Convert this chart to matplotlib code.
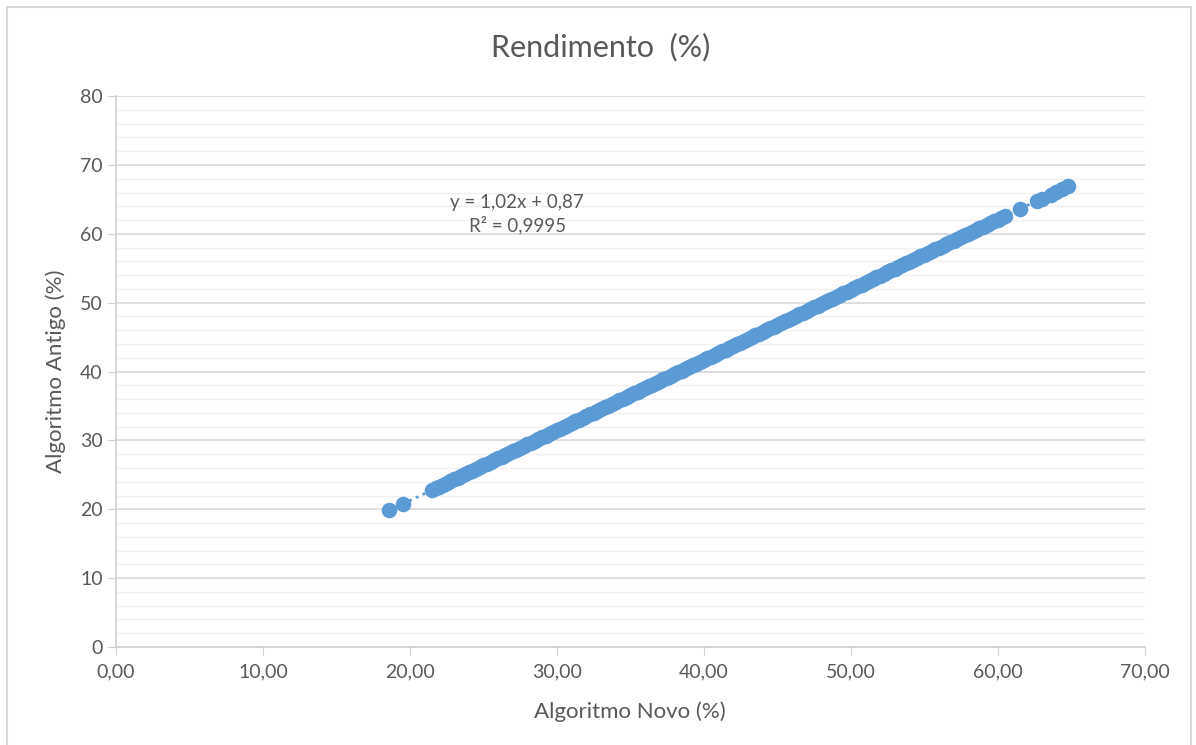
import matplotlib.pyplot as plt
import numpy as np
from matplotlib.patches import Rectangle

plt.rcParams['font.family'] = ['Lato', 'DejaVu Sans']

# Rendimento (%) - algoritmo novo vs antigo
novo = [18.6, 19.5,
        21.50, 21.75, 22.00, 22.25, 22.50, 22.75, 23.00, 23.25,
        23.50, 23.75, 24.00, 24.25, 24.50, 24.75, 25.00, 25.25,
        25.50, 25.75, 26.00, 26.25, 26.50, 26.75, 27.00, 27.25,
        27.50, 27.75, 28.00, 28.25, 28.50, 28.75, 29.00, 29.25,
        29.50, 29.75, 30.00, 30.25, 30.50, 30.75, 31.00, 31.25,
        31.50, 31.75, 32.00, 32.25, 32.50, 32.75, 33.00, 33.25,
        33.50, 33.75, 34.00, 34.25, 34.50, 34.75, 35.00, 35.25,
        35.50, 35.75, 36.00, 36.25, 36.50, 36.75, 37.00, 37.25,
        37.50, 37.75, 38.00, 38.25, 38.50, 38.75, 39.00, 39.25,
        39.50, 39.75, 40.00, 40.25, 40.50, 40.75, 41.00, 41.25,
        41.50, 41.75, 42.00, 42.25, 42.50, 42.75, 43.00, 43.25,
        43.50, 43.75, 44.00, 44.25, 44.50, 44.75, 45.00, 45.25,
        45.50, 45.75, 46.00, 46.25, 46.50, 46.75, 47.00, 47.25,
        47.50, 47.75, 48.00, 48.25, 48.50, 48.75, 49.00, 49.25,
        49.50, 49.75, 50.00, 50.25, 50.50, 50.75, 51.00, 51.25,
        51.50, 51.75, 52.00, 52.25, 52.50, 52.75, 53.00, 53.25,
        53.50, 53.75, 54.00, 54.25, 54.50, 54.75, 55.00, 55.25,
        55.50, 55.75, 56.00, 56.25, 56.50, 56.75, 57.00, 57.25,
        57.50, 57.75, 58.00, 58.25, 58.50, 58.75, 59.00, 59.25,
        59.50, 59.75, 60.00, 60.25, 60.50,
        61.5, 62.7, 63.0, 63.6, 64.0, 64.4, 64.8]
antigo = [19.9, 20.8,
          22.80, 23.06, 23.31, 23.57, 23.82, 24.08, 24.33, 24.59,
          24.84, 25.10, 25.35, 25.61, 25.86, 26.12, 26.37, 26.63,
          26.88, 27.14, 27.39, 27.65, 27.90, 28.16, 28.41, 28.67,
          28.92, 29.18, 29.43, 29.69, 29.94, 30.20, 30.45, 30.71,
          30.96, 31.22, 31.47, 31.73, 31.98, 32.24, 32.49, 32.75,
          33.00, 33.26, 33.51, 33.77, 34.02, 34.28, 34.53, 34.79,
          35.04, 35.30, 35.55, 35.81, 36.06, 36.32, 36.57, 36.83,
          37.08, 37.34, 37.59, 37.85, 38.10, 38.36, 38.61, 38.87,
          39.12, 39.38, 39.63, 39.89, 40.14, 40.40, 40.65, 40.91,
          41.16, 41.42, 41.67, 41.93, 42.18, 42.44, 42.69, 42.95,
          43.20, 43.46, 43.71, 43.97, 44.22, 44.48, 44.73, 44.99,
          45.24, 45.50, 45.75, 46.01, 46.26, 46.52, 46.77, 47.03,
          47.28, 47.54, 47.79, 48.05, 48.30, 48.56, 48.81, 49.07,
          49.32, 49.58, 49.83, 50.09, 50.34, 50.60, 50.85, 51.11,
          51.36, 51.62, 51.87, 52.13, 52.38, 52.64, 52.89, 53.15,
          53.40, 53.66, 53.91, 54.17, 54.42, 54.68, 54.93, 55.19,
          55.44, 55.70, 55.95, 56.21, 56.46, 56.72, 56.97, 57.23,
          57.48, 57.74, 57.99, 58.25, 58.50, 58.76, 59.01, 59.27,
          59.52, 59.78, 60.03, 60.29, 60.54, 60.80, 61.05, 61.31,
          61.56, 61.82, 62.07, 62.33, 62.58,
          63.6, 64.8, 65.0, 65.6, 66.1, 66.5, 67.0]

slope, intercept = 1.02, 0.87
xticks = [0, 10, 20, 30, 40, 50, 60, 70]
yticks = [0, 10, 20, 30, 40, 50, 60, 70, 80]

blue = '#5b9bd5'
grey = '#595959'

fig = plt.figure(figsize=(11.96, 7.45), dpi=100)
fig.patches.append(Rectangle((0.006, -0.01), 0.99, 1.0, transform=fig.transFigure,
                             fill=False, edgecolor='#d9d9d9', linewidth=1.5))
ax = fig.add_axes([0.097, 0.1315, 0.860, 0.7395])

ax.scatter(novo, antigo, s=125, color=blue, zorder=3, linewidths=0)
xs = np.array([min(novo), max(novo)])
ax.plot(xs, slope * xs + intercept, ':', color=blue, linewidth=2, zorder=2)

ax.set_xlim(0, 70)
ax.set_ylim(0, 80)
ax.set_xticks(xticks)
ax.set_xticklabels(['%d,00' % v for v in xticks])
ax.set_yticks(yticks)
ax.set_yticks(np.arange(0, 81, 2), minor=True)
ax.grid(True, axis='y', which='major', color='#d9d9d9', linewidth=1.2)
ax.grid(True, axis='y', which='minor', color='#f0f0f0', linewidth=1.0)
ax.set_axisbelow(True)

for s in ['top', 'right']:
    ax.spines[s].set_visible(False)
for s in ['left', 'bottom']:
    ax.spines[s].set_color('#d0d0d0')
    ax.spines[s].set_linewidth(1.2)
ax.tick_params(axis='both', which='major', colors='#d0d0d0', labelcolor=grey,
               labelsize=14, length=6)
ax.tick_params(axis='y', which='minor', length=0)
ax.tick_params(axis='x', pad=6)

fig.text(0.502, 0.937, 'Rendimento  (%)', ha='center', va='center',
         fontsize=22, color=grey)
ax.set_xlabel('Algoritmo Novo (%)', fontsize=16, color=grey, labelpad=15)
ax.set_ylabel('Algoritmo Antigo (%)', fontsize=16, color=grey, labelpad=10)

ax.text(27.3, 62.9, 'y = 1,02x + 0,87\nR² = 0,9995', ha='center', va='center',
        fontsize=13.5, color=grey, linespacing=1.3)

fig.savefig('out.png', dpi=100)
